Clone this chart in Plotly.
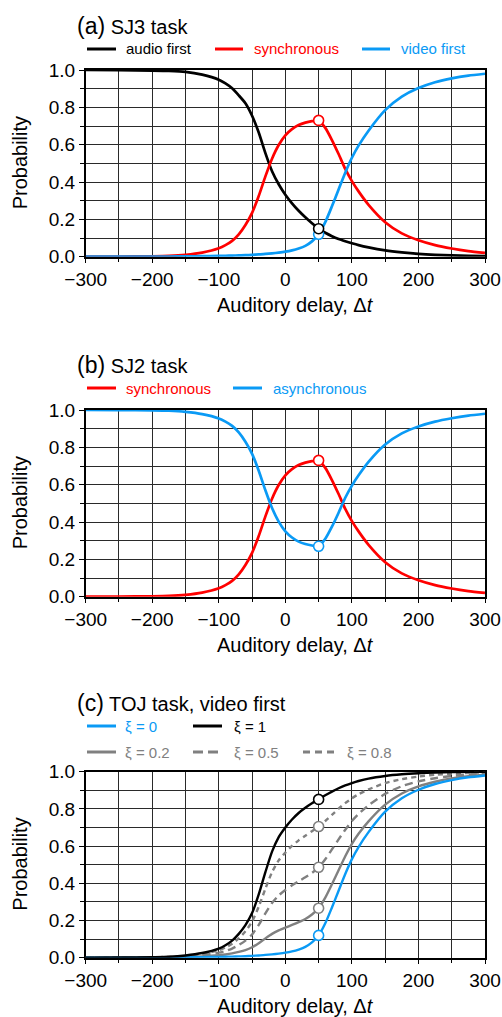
import plotly.graph_objects as go

W, H = 502, 1017

# Auditory delay grid (ms)
delay = [-300, -250, -200, -175, -150, -125, -100, -90, -80, -70, -60, -50, -40, -30,
         -20, -10, 0, 10, 20, 30, 40, 50, 60, 70, 80, 90, 100, 110, 125, 150, 175,
         200, 225, 250, 275, 300]

# (a) SJ3 task response probabilities
audio_first = [1.000, 0.999, 0.997, 0.995, 0.990, 0.975, 0.948, 0.928, 0.902, 0.864,
               0.822, 0.755, 0.665, 0.555, 0.458, 0.388, 0.332, 0.286, 0.246, 0.211,
               0.179, 0.150, 0.128, 0.110, 0.095, 0.083, 0.072, 0.062, 0.050, 0.034,
               0.023, 0.015, 0.010, 0.007, 0.005, 0.003]
synchronous = [0.000, 0.001, 0.002, 0.004, 0.010, 0.022, 0.045, 0.062, 0.085, 0.120,
               0.170, 0.235, 0.325, 0.430, 0.525, 0.598, 0.650, 0.683, 0.705, 0.718,
               0.726, 0.730, 0.690, 0.625, 0.550, 0.470, 0.405, 0.350, 0.278, 0.185,
               0.125, 0.088, 0.062, 0.044, 0.030, 0.020]
video_first = [0.000, 0.000, 0.001, 0.001, 0.002, 0.003, 0.004, 0.005, 0.006, 0.007,
               0.008, 0.010, 0.012, 0.015, 0.018, 0.022, 0.027, 0.034, 0.044, 0.058,
               0.082, 0.120, 0.185, 0.270, 0.360, 0.450, 0.530, 0.595, 0.675, 0.785,
               0.857, 0.903, 0.934, 0.955, 0.970, 0.980]

# (b) SJ2 task
asynchronous = [1.000, 0.999, 0.998, 0.996, 0.990, 0.978, 0.955, 0.938, 0.915, 0.880,
                0.830, 0.765, 0.675, 0.570, 0.475, 0.402, 0.350, 0.317, 0.295, 0.282,
                0.274, 0.270, 0.310, 0.375, 0.450, 0.530, 0.595, 0.650, 0.722, 0.815,
                0.875, 0.912, 0.938, 0.956, 0.970, 0.980]

# (c) TOJ task, "video first" probability for several xi values
toj_xi0 = video_first
toj_xi02 = [0.000, 0.000, 0.001, 0.002, 0.004, 0.007, 0.013, 0.017, 0.023, 0.031,
            0.041, 0.056, 0.078, 0.104, 0.128, 0.147, 0.162, 0.176, 0.191, 0.208,
            0.232, 0.266, 0.323, 0.395, 0.470, 0.545, 0.612, 0.666, 0.733, 0.823,
            0.883, 0.921, 0.946, 0.964, 0.976, 0.984]
toj_xi05 = [0.000, 0.001, 0.002, 0.003, 0.007, 0.014, 0.027, 0.036, 0.049, 0.068,
            0.092, 0.125, 0.176, 0.238, 0.294, 0.335, 0.364, 0.389, 0.411, 0.432,
            0.456, 0.486, 0.529, 0.582, 0.636, 0.688, 0.735, 0.773, 0.819, 0.881,
            0.922, 0.948, 0.965, 0.977, 0.985, 0.990]
toj_xi08 = [0.000, 0.001, 0.003, 0.004, 0.010, 0.021, 0.040, 0.055, 0.075, 0.104,
            0.142, 0.194, 0.274, 0.371, 0.460, 0.523, 0.565, 0.601, 0.631, 0.656,
            0.680, 0.705, 0.735, 0.768, 0.801, 0.831, 0.857, 0.879, 0.905, 0.939,
            0.960, 0.974, 0.984, 0.989, 0.993, 0.996]
toj_xi1 = [0.000, 0.001, 0.003, 0.005, 0.012, 0.025, 0.049, 0.067, 0.092, 0.128,
           0.175, 0.240, 0.340, 0.460, 0.570, 0.648, 0.700, 0.743, 0.778, 0.806,
           0.830, 0.851, 0.873, 0.893, 0.911, 0.926, 0.939, 0.950, 0.963, 0.977,
           0.986, 0.992, 0.996, 0.998, 0.999, 1.000]

x_ticks = [-300, -200, -100, 0, 100, 200, 300]
y_ticks = [0.0, 0.2, 0.4, 0.6, 0.8, 1.0]
marker_delay = 50

RED = "#ff0000"
BLUE = "#0a9af5"
GREY = "#808080"
BLACK = "#000000"
GRID = "#2a2a2a"
FONT = "Liberation Sans, Arial, Helvetica, sans-serif"


def fx(px):
    return px / W


def fy(py):
    return 1 - py / H


# plot-area boxes in page pixels: (left, right, top, bottom)
panels = [(85.7, 485.0, 70.0, 256.7),
          (85.7, 485.0, 410.0, 596.7),
          (85.7, 485.0, 771.7, 957.7)]

fig = go.Figure()

axis_common = dict(showline=True, linecolor=BLACK, linewidth=1.5, mirror=True,
                   ticks="outside", ticklen=5, tickwidth=1, tickcolor=BLACK,
                   showgrid=True, gridcolor=GRID, gridwidth=1, zeroline=False,
                   automargin=False,
                   tickfont=dict(family=FONT, size=19, color=BLACK),
                   layer="below traces")

for i, (l, r, t, b) in enumerate(panels):
    n = "" if i == 0 else str(i + 1)
    fig.layout["xaxis" + n] = dict(
        domain=[fx(l), fx(r)], anchor="y" + n, range=[-300, 300],
        tickvals=x_ticks, ticktext=[str(v).replace("-", "\u2212") for v in x_ticks],
        minor=dict(dtick=50, tick0=0, showgrid=True, gridcolor=GRID, gridwidth=1,
                   ticks="outside", ticklen=4, tickcolor=BLACK),
        **axis_common)
    fig.layout["yaxis" + n] = dict(
        domain=[fy(b), fy(t)], anchor="x" + n, range=[0, 1],
        tickvals=y_ticks, ticktext=[f"{v:.1f}" for v in y_ticks],
        minor=dict(dtick=0.1, tick0=0, showgrid=True, gridcolor=GRID, gridwidth=1,
                   ticks="outside", ticklen=4, tickcolor=BLACK),
        **axis_common)


def curve(y, color, axis, dash="solid", width=2.7):
    fig.add_trace(go.Scatter(
        x=delay, y=y, mode="lines", xaxis="x" + axis, yaxis="y" + axis,
        line=dict(color=color, width=width, dash=dash, shape="spline", smoothing=0.6),
        cliponaxis=False, showlegend=False, hoverinfo="skip"))


def ring(y, color, axis):
    k = delay.index(marker_delay)
    fig.add_trace(go.Scatter(
        x=[marker_delay], y=[y[k]], mode="markers", xaxis="x" + axis, yaxis="y" + axis,
        marker=dict(size=10, color="white", line=dict(color=color, width=1.6)),
        cliponaxis=False, showlegend=False, hoverinfo="skip"))


# (a)
curve(audio_first, BLACK, "")
curve(synchronous, RED, "")
curve(video_first, BLUE, "")
ring(video_first, BLUE, "")
ring(synchronous, RED, "")
ring(audio_first, BLACK, "")

# (b)
curve(synchronous, RED, "2")
curve(asynchronous, BLUE, "2")
ring(synchronous, RED, "2")
ring(asynchronous, BLUE, "2")

# (c)
curve(toj_xi08, GREY, "3", dash="5px,4px", width=2.4)
curve(toj_xi05, GREY, "3", dash="8px,5px", width=2.4)
curve(toj_xi02, GREY, "3", width=2.4)
curve(toj_xi0, BLUE, "3", width=2.4)
curve(toj_xi1, BLACK, "3", width=2.4)
for y, c in [(toj_xi0, BLUE), (toj_xi02, GREY), (toj_xi05, GREY), (toj_xi08, GREY),
             (toj_xi1, BLACK)]:
    ring(y, c, "3")

annotations = []
shapes = []


def text(px, py, s, size, color=BLACK, anchor="left", angle=0):
    annotations.append(dict(
        x=fx(px), y=fy(py), xref="paper", yref="paper", text=s, showarrow=False,
        xanchor=anchor, yanchor="middle", textangle=angle,
        font=dict(family=FONT, size=size, color=color)))


def key(x0, x1, py, color, label, tx, dash="solid"):
    shapes.append(dict(type="line", xref="paper", yref="paper",
                       x0=fx(x0), x1=fx(x1), y0=fy(py), y1=fy(py),
                       line=dict(color=color, width=3, dash=dash)))
    text(tx, py, label, 15, color)


titles = ["(a)</span> SJ3 task", "(b)</span> SJ2 task", "(c)</span> TOJ task, video first"]
title_y = [26, 365, 703]
for (l, r, t, b), ttl, ty in zip(panels, titles, title_y):
    text(75, ty, "<span style='font-size:23px'>" + ttl, 20)
    text((l + r) / 2 + 10, b + 48, "Auditory delay, \u0394<i>t</i>", 20, anchor="center")
    text(20, (t + b) / 2, "Probability", 20, anchor="center", angle=-90)

key(87, 116, 49, BLACK, "audio first", 124)
key(215, 243, 49, RED, "synchronous", 252)
key(362, 390, 49, BLUE, "video first", 399)

key(87, 116, 388, RED, "synchronous", 124)
key(233, 262, 388, BLUE, "asynchronous", 271)

key(87, 116, 726, BLUE, "\u03be = 0", 123)
key(193, 222, 726, BLACK, "\u03be = 1", 232)
key(87, 116, 752, GREY, "\u03be = 0.2", 123)
key(193, 222, 752, GREY, "\u03be = 0.5", 232, dash="10px,5px")
key(303, 337, 752, GREY, "\u03be = 0.8", 345, dash="7px,5px")

fig.update_layout(width=W, height=H, margin=dict(l=0, r=0, t=0, b=0),
                  paper_bgcolor="white", plot_bgcolor="white",
                  annotations=annotations, shapes=shapes, showlegend=False)

fig.write_html("out.html")
